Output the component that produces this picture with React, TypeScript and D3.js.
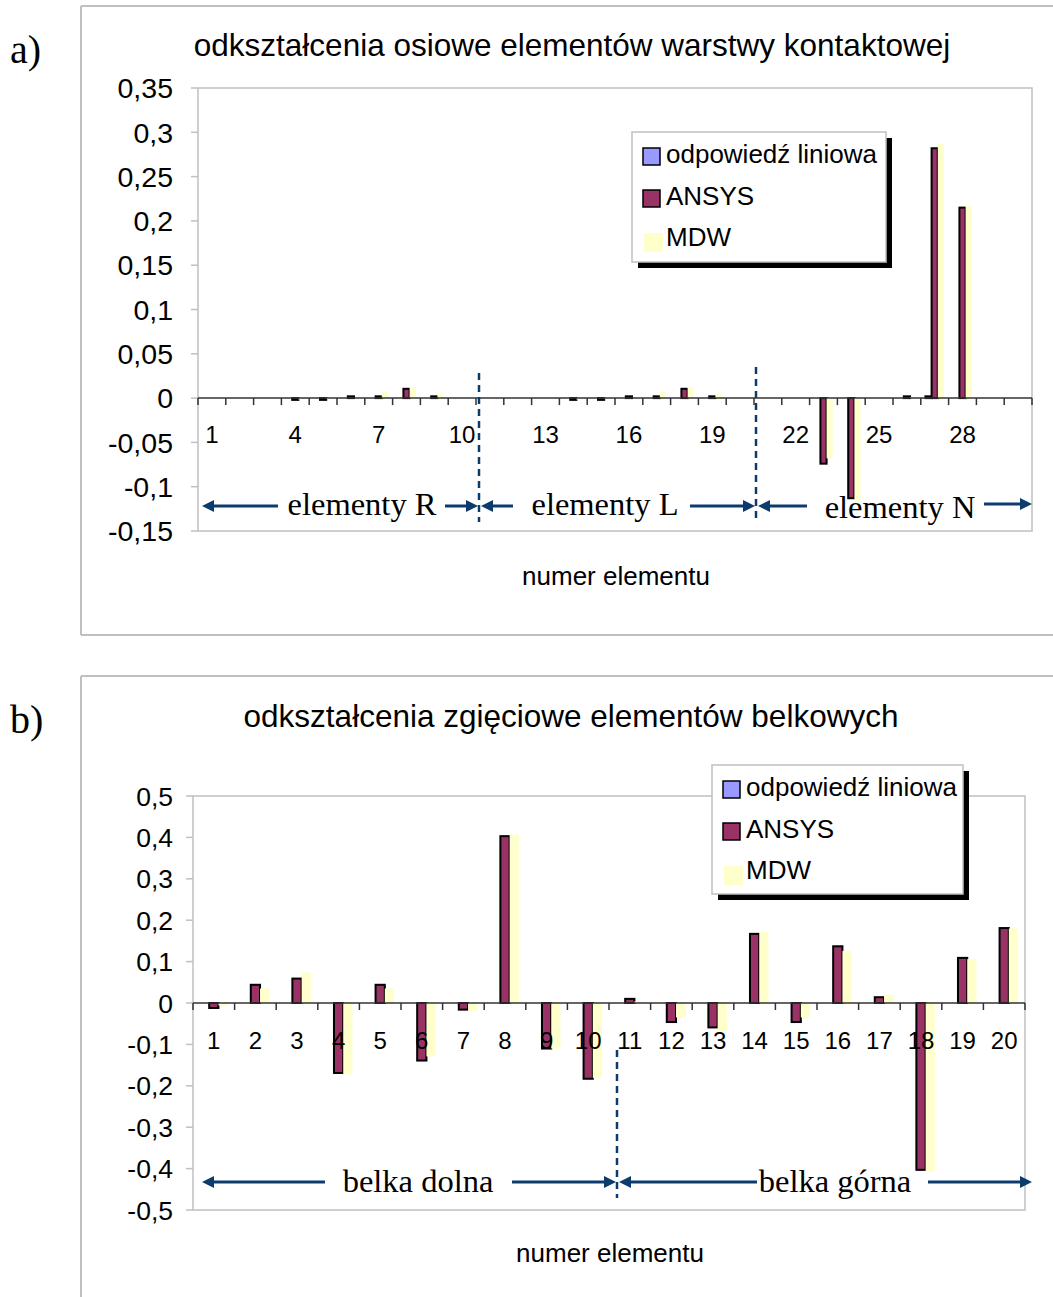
import React from "react";
import * as d3 from "d3";

// ---------- data ----------
const seriesNames = ["odpowiedź liniowa", "ANSYS", "MDW"];
const seriesFill = ["#9999ff", "#993366", "#ffffcc"];

const catsA = ["1","2","3","4","5","6","7","8","9","10","11","12","13","14","15","16","17","18","19","20","21","22","23","24","25","26","27","28","29","30"];
const labelsA = ["1","4","7","10","13","16","19","22","25","28"];
const linA = [0,0,0,0,0,0,0,0,0,0, 0,0,0,0,0,0,0,0,0,0, 0,0,0,0,0,0,0.002,0,0,0];
const ansysA = [0,0,0,-0.002,-0.002,0.002,0.002,0.0105,0.002,0, 0,0,0,-0.002,-0.002,0.002,0.002,0.0105,0.002,0, 0,0,-0.074,-0.113,0,0.002,0.282,0.215,0,0];
const mdwA = [0,0,0,-0.0015,-0.001,0,0.0075,0.0125,0.005,0, 0,0,0,-0.0015,-0.001,0,0.0075,0.0125,0.005,0, 0,0,-0.068,-0.117,0,0.001,0.287,0.217,0,0];
const yTicksA = [-0.15,-0.1,-0.05,0,0.05,0.1,0.15,0.2,0.25,0.3,0.35];

const catsB = ["1","2","3","4","5","6","7","8","9","10","11","12","13","14","15","16","17","18","19","20"];
const labelsB = catsB;
const linB = [0,0,0,0,0,0,0,0,0,0, 0,0,0,0,0,0,0,0,0,0];
const ansysB = [-0.012,0.044,0.059,-0.169,0.044,-0.139,-0.016,0.403,-0.110,-0.183,0.010,-0.046,-0.059,0.167,-0.046,0.137,0.014,-0.403,0.109,0.181];
const mdwB = [-0.006,0.035,0.074,-0.173,0.035,-0.129,-0.020,0.407,-0.110,-0.181,0.004,-0.035,-0.068,0.172,-0.035,0.126,0.020,-0.407,0.106,0.180];
const yTicksB = [-0.5,-0.4,-0.3,-0.2,-0.1,0,0.1,0.2,0.3,0.4,0.5];

const titleA = "odkształcenia osiowe elementów warstwy kontaktowej";
const titleB = "odkształcenia zgięciowe elementów belkowych";
const xTitle = "numer elementu";

// ---------- styling ----------
const SANS = "'Liberation Sans', Arial, sans-serif";
const SERIF = "'Liberation Serif', 'Times New Roman', serif";
const NAVY = "#0c3c6e";
const GRID = "#c0c0c0";

const fmt = (v: number) => (v === 0 ? "0" : String(+v.toFixed(2)).replace(".", ","));

function Arrow({ x1, x2, y, head }: { x1: number; x2: number; y: number; head: "left" | "right" }) {
  const hl = 12, hw = 6;
  const hx = head === "left" ? x1 : x2;
  const dir = head === "left" ? 1 : -1;
  return (
    <g>
      <line x1={head === "left" ? x1 + hl * 0.6 : x1} x2={head === "right" ? x2 - hl * 0.6 : x2} y1={y} y2={y} stroke={NAVY} strokeWidth={3} />
      <polygon points={`${hx},${y} ${hx + dir * hl},${y - hw} ${hx + dir * hl},${y + hw}`} fill={NAVY} />
    </g>
  );
}

function Legend({ x, y, w, h }: { x: number; y: number; w: number; h: number }) {
  const sw = [16, 58, 101];
  const tb = [31, 73, 114];
  return (
    <g>
      <rect x={x + 6} y={y + 6} width={w} height={h} fill="#000" />
      <rect x={x} y={y} width={w} height={h} fill="#fff" stroke={GRID} strokeWidth={1.5} />
      {seriesNames.map((n, i) => (
        <g key={n}>
          {i < 2 ? (
            <rect x={x + 11} y={y + sw[i]} width={17} height={17} fill={seriesFill[i]} stroke="#000" strokeWidth={1.5} />
          ) : (
            <rect x={x + 12} y={y + sw[i]} width={19} height={19} fill={seriesFill[i]} />
          )}
          <text x={x + 34} y={y + tb[i]} fontFamily={SANS} fontSize={26} fill="#000">{n}</text>
        </g>
      ))}
    </g>
  );
}

type ChartProps = {
  cats: string[];
  labels: string[];
  series: number[][];
  yTicks: number[];
  left: number; right: number; top: number; bottom: number;
  yLabelSize: number;
  xLabelY: number;
};

function Bars({ cats, labels, series, yTicks, left, right, top, bottom, yLabelSize, xLabelY }: ChartProps) {
  const x = d3.scaleBand<string>().domain(cats).range([left, right]).paddingInner(0).paddingOuter(0);
  const inner = d3.scaleBand<number>().domain([0, 1, 2]).range([0, x.bandwidth()]).paddingInner(0).paddingOuter(0.75);
  const y = d3.scaleLinear().domain([yTicks[0], yTicks[yTicks.length - 1]]).range([bottom, top]);
  const y0 = y(0);
  const boundaries = cats.map((c) => x(c) as number).concat([right]);
  return (
    <g>
      <rect x={left} y={top} width={right - left} height={bottom - top} fill="#fff" stroke={GRID} strokeWidth={1.5} />
      {yTicks.map((t) => (
        <g key={t}>
          <line x1={left - 7} x2={left} y1={y(t)} y2={y(t)} stroke={GRID} strokeWidth={1.5} />
          <text x={173} y={y(t)} dy="0.36em" textAnchor="end" fontFamily={SANS} fontSize={yLabelSize} fill="#000">{fmt(t)}</text>
        </g>
      ))}
      {series.map((vals, si) =>
        vals.map((v, ci) => {
          if (v === 0) return null;
          const yv = y(v);
          return (
            <rect
              key={`${si}-${ci}`}
              x={(x(cats[ci]) as number) + (inner(si) as number)}
              y={Math.min(yv, y0)}
              width={inner.bandwidth()}
              height={Math.abs(yv - y0)}
              fill={seriesFill[si]}
              stroke={si < 2 ? "#000" : "none"}
              strokeWidth={si < 2 ? 2 : 0}
            />
          );
        })
      )}
      <line x1={left} x2={right} y1={y0} y2={y0} stroke="#333" strokeWidth={1.5} />
      {boundaries.map((b, i) => (
        <line key={i} x1={b} x2={b} y1={y0} y2={y0 + 7} stroke="#333" strokeWidth={1.5} />
      ))}
      {cats.map((c) =>
        labels.includes(c) ? (
          <text key={c} x={(x(c) as number) + x.bandwidth() / 2} y={xLabelY} dy="0.36em" textAnchor="middle" fontFamily={SANS} fontSize={24} fill="#000">{c}</text>
        ) : null
      )}
    </g>
  );
}

export default function App() {
  return (
    <svg width={1053} height={1297} style={{ position: "absolute", left: 0, top: 0, background: "#fff" }}>
      <rect x={0} y={0} width={1053} height={1297} fill="#fff" />
      {/* ---- chart a ---- */}
      <line x1={81} x2={1053} y1={6} y2={6} stroke={GRID} strokeWidth={2} />
      <line x1={81} x2={81} y1={6} y2={635} stroke={GRID} strokeWidth={2} />
      <line x1={81} x2={1053} y1={635} y2={635} stroke={GRID} strokeWidth={2} />
      <text x={10} y={63} fontFamily={SERIF} fontSize={40} fill="#000">a)</text>
      <text x={572} y={56} textAnchor="middle" fontFamily={SANS} fontSize={31.5} fill="#000">{titleA}</text>
      <Bars cats={catsA} labels={labelsA} series={[linA, ansysA, mdwA]} yTicks={yTicksA}
        left={198} right={1032} top={88} bottom={531} yLabelSize={28.5} xLabelY={434} />
      <Legend x={632} y={132} w={254} h={130} />
      <text x={616} y={576} dy="0.36em" textAnchor="middle" fontFamily={SANS} fontSize={26} fill="#000">{xTitle}</text>
      <line x1={479} x2={479} y1={373} y2={522} stroke={NAVY} strokeWidth={2.5} strokeDasharray="7,5" />
      <line x1={756} x2={756} y1={367} y2={518} stroke={NAVY} strokeWidth={2.5} strokeDasharray="7,5" />
      <Arrow x1={202} x2={278} y={506} head="left" />
      <text x={362} y={515} textAnchor="middle" fontFamily={SERIF} fontSize={32.5} fill="#000">elementy R</text>
      <Arrow x1={445} x2={478} y={506} head="right" />
      <Arrow x1={481} x2={513} y={506} head="left" />
      <text x={605} y={515} textAnchor="middle" fontFamily={SERIF} fontSize={32.5} fill="#000">elementy L</text>
      <Arrow x1={690} x2={755} y={506} head="right" />
      <Arrow x1={758} x2={807} y={506} head="left" />
      <text x={900} y={518} textAnchor="middle" fontFamily={SERIF} fontSize={32.5} fill="#000">elementy N</text>
      <Arrow x1={984} x2={1032} y={504} head="right" />

      {/* ---- chart b ---- */}
      <line x1={81} x2={1053} y1={676} y2={676} stroke={GRID} strokeWidth={2} />
      <line x1={81} x2={81} y1={676} y2={1297} stroke={GRID} strokeWidth={2} />
      <text x={10} y={733} fontFamily={SERIF} fontSize={40} fill="#000">b)</text>
      <text x={571} y={727} textAnchor="middle" fontFamily={SANS} fontSize={31.5} fill="#000">{titleB}</text>
      <Bars cats={catsB} labels={labelsB} series={[linB, ansysB, mdwB]} yTicks={yTicksB}
        left={193} right={1025} top={796} bottom={1210} yLabelSize={26.5} xLabelY={1040} />
      <Legend x={712} y={765} w={251} h={129} />
      <text x={610} y={1253} dy="0.36em" textAnchor="middle" fontFamily={SANS} fontSize={26} fill="#000">{xTitle}</text>
      <line x1={617} x2={617} y1={1050} y2={1198} stroke={NAVY} strokeWidth={2.5} strokeDasharray="7,5" />
      <Arrow x1={202} x2={325} y={1182} head="left" />
      <text x={418} y={1192} textAnchor="middle" fontFamily={SERIF} fontSize={32.5} fill="#000">belka dolna</text>
      <Arrow x1={512} x2={616} y={1182} head="right" />
      <Arrow x1={619} x2={757} y={1182} head="left" />
      <text x={835} y={1192} textAnchor="middle" fontFamily={SERIF} fontSize={32.5} fill="#000">belka górna</text>
      <Arrow x1={928} x2={1032} y={1182} head="right" />
    </svg>
  );
}
